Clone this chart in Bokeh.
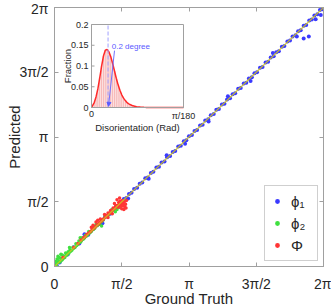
import numpy as np
from bokeh.plotting import figure
from bokeh.models import Range1d, LinearAxis, FixedTicker, Legend, LegendItem, Arrow, NormalHead, Label
from bokeh.core.properties import value
from bokeh.embed import file_html
from bokeh.resources import INLINE

PI = np.pi
FONT = "Liberation Sans"

# ---------------- data ----------------
tick_vals = [0, PI / 2, PI, 3 * PI / 2, 2 * PI]
tick_labels = ["0", "π/2", "π", "3π/2", "2π"]
diag = [0, 2 * PI]

phi1_true = [0.05, 0.12, 0.22, 0.31, 0.45, 0.58, 0.66, 0.79, 0.93, 1.05, 1.18, 1.30, 1.44, 1.55, 1.62, 1.68,
             1.74, 1.80, 1.86, 1.93, 1.99, 2.05, 2.12, 2.18, 2.25, 2.31, 2.38, 2.44, 2.50, 2.57, 2.63, 2.70,
             2.76, 2.82, 2.89, 2.95, 3.02, 3.08, 3.14, 3.21, 3.27, 3.33, 3.40, 3.46, 3.52, 3.59, 3.65, 3.72,
             3.78, 3.84, 3.91, 3.97, 4.03, 4.10, 4.16, 4.22, 4.29, 4.35, 4.42, 4.48, 4.54, 4.61, 4.67, 4.73,
             4.80, 4.86, 4.93, 4.99, 5.05, 5.12, 5.18, 5.24, 5.31, 5.37, 5.44, 5.50, 5.56, 5.63, 5.69, 5.75,
             5.82, 5.88, 5.95, 6.01, 6.07, 6.14, 6.20, 6.26,
             1.72, 2.20, 2.62, 3.05, 3.60, 4.05, 4.58, 5.10, 5.66, 5.82, 5.94, 6.10, 6.22, 1.12, 0.70]
phi1_pred = [0.03, 0.10, 0.24, 0.29, 0.47, 0.56, 0.68, 0.77, 0.95, 1.03, 1.20, 1.28, 1.46, 1.53, 1.64, 1.66,
             1.76, 1.79, 1.88, 1.91, 2.01, 2.04, 2.14, 2.16, 2.27, 2.30, 2.40, 2.42, 2.52, 2.55, 2.65, 2.68,
             2.78, 2.80, 2.91, 2.93, 3.04, 3.06, 3.16, 3.19, 3.29, 3.31, 3.42, 3.44, 3.54, 3.57, 3.67, 3.70,
             3.80, 3.82, 3.93, 3.95, 4.05, 4.08, 4.18, 4.20, 4.31, 4.33, 4.44, 4.46, 4.56, 4.59, 4.69, 4.71,
             4.82, 4.84, 4.95, 4.97, 5.07, 5.10, 5.20, 5.22, 5.33, 5.35, 5.46, 5.48, 5.58, 5.61, 5.71, 5.73,
             5.84, 5.86, 5.97, 5.99, 6.09, 6.12, 6.22, 6.24,
             1.65, 2.13, 2.70, 2.98, 3.52, 4.13, 4.50, 5.18, 5.58, 5.53, 5.58, 6.00, 6.10, 1.05, 0.78]

phi2_true = [0.02, 0.03, 0.05, 0.06, 0.08, 0.10, 0.11, 0.13, 0.15, 0.17, 0.18, 0.20, 0.22, 0.24, 0.26, 0.28,
             0.30, 0.32, 0.34, 0.36, 0.38, 0.41, 0.43, 0.45, 0.48, 0.50, 0.52, 0.55, 0.57, 0.60, 0.62, 0.65,
             0.67, 0.70, 0.72, 0.75, 0.78, 0.80, 0.83, 0.86, 0.88, 0.91, 0.94, 0.97, 1.00, 1.03, 1.06, 1.10,
             1.14, 1.18, 1.22, 1.26, 1.30, 1.34, 1.38, 1.42, 1.46, 1.52, 1.58, 1.10, 0.90, 0.60, 0.35, 0.15, 0.08]
phi2_pred = [0.05, 0.12, 0.02, 0.18, 0.10, 0.14, 0.22, 0.11, 0.20, 0.15, 0.28, 0.19, 0.25, 0.22, 0.33, 0.27,
             0.29, 0.36, 0.33, 0.40, 0.37, 0.40, 0.47, 0.44, 0.47, 0.55, 0.51, 0.54, 0.62, 0.59, 0.61, 0.70,
             0.66, 0.69, 0.76, 0.74, 0.77, 0.85, 0.82, 0.85, 0.93, 0.90, 0.93, 1.02, 0.99, 1.02, 1.05, 1.09,
             1.13, 1.22, 1.21, 1.25, 1.29, 1.38, 1.37, 1.33, 1.38, 1.43, 1.50, 0.98, 0.97, 0.70, 0.46, 0.30, 0.25]

Phi_true = [0.20, 0.45, 0.55, 0.62, 0.68, 0.72, 0.76, 0.80, 0.84, 0.86, 0.88, 0.90, 0.92, 0.95, 0.97, 0.99,
            1.01, 1.03, 1.05, 1.07, 1.09, 1.11, 1.13, 1.15, 1.17, 1.19, 1.21, 1.23, 1.25, 1.27, 1.29, 1.31,
            1.33, 1.35, 1.37, 1.39, 1.41, 1.43, 1.45, 1.47, 1.49, 1.50, 1.52, 1.53, 1.55, 1.56, 1.57, 1.58,
            1.60, 1.61, 1.62, 1.63, 1.64, 1.66, 1.67, 1.68, 1.46, 1.40, 1.52, 1.35, 1.25]
Phi_pred = [0.22, 0.46, 0.56, 0.64, 0.70, 0.73, 0.78, 0.81, 0.85, 0.95, 0.89, 1.00, 0.93, 0.96, 1.08, 1.00,
            1.12, 1.04, 1.06, 1.15, 1.10, 1.12, 1.14, 1.16, 1.26, 1.20, 1.22, 1.24, 1.30, 1.28, 1.30, 1.36,
            1.34, 1.36, 1.42, 1.40, 1.42, 1.47, 1.46, 1.48, 1.44, 1.55, 1.50, 1.58, 1.46, 1.52, 1.40, 1.60,
            1.48, 1.55, 1.38, 1.57, 1.45, 1.51, 1.42, 1.60, 1.62, 1.53, 1.66, 1.28, 1.19]

# inset: disorientation histogram (degrees; axis end = 1 degree = pi/180 rad)
hist_deg = [0.01, 0.03, 0.05, 0.07, 0.09, 0.11, 0.13, 0.15, 0.17, 0.19, 0.21, 0.23, 0.25, 0.27, 0.29,
            0.31, 0.33, 0.35, 0.37, 0.39, 0.41, 0.43, 0.45, 0.47, 0.49, 0.51, 0.53, 0.55, 0.57, 0.59]
hist_frac = [0.004, 0.012, 0.026, 0.046, 0.072, 0.100, 0.124, 0.138, 0.140, 0.134, 0.122, 0.106, 0.088,
             0.070, 0.054, 0.041, 0.030, 0.022, 0.016, 0.011, 0.008, 0.006, 0.004, 0.003, 0.002, 0.0015,
             0.001, 0.0008, 0.0005, 0.0003]
bin_width = 0.02
inset_xlim = (0, 1)
inset_ylim = (0, 0.2)
inset_xticks = [0, 1]
inset_xlabels = ["0", "π/180"]
inset_yticks = [0, 0.05, 0.1, 0.15, 0.2]
inset_ylabels = ["0", "0.05", "0.1", "0.15", "0.2"]
mark_deg = 0.18
note_text = "0.2 degree"
note_pos = (0.22, 0.148)
arrow_from = (0.25, 0.137)
arrow_to = (0.185, 0.003)

# ---------------- layout constants (pixels) ----------------
FW, FH = 269, 259                 # main frame size
INSET = dict(left=37, right=129, bottom=159, top=242)   # inset box inside the main frame (px from frame left / bottom)

AX = "#a0a0a0"
TXT = "#262626"


def style_axis(ax, lab_size, title_size, tick_in=4):
    ax.axis_line_color = AX
    ax.major_tick_line_color = AX
    ax.major_tick_in = tick_in
    ax.major_tick_out = 0
    ax.minor_tick_line_color = None
    ax.major_label_text_font = FONT
    ax.major_label_text_font_size = lab_size
    ax.major_label_text_color = TXT
    ax.axis_label_text_font = FONT
    ax.axis_label_text_font_size = title_size
    ax.axis_label_text_font_style = "normal"
    ax.axis_label_text_color = TXT


# ---------------- main figure ----------------
p = figure(frame_width=FW, frame_height=FH, x_range=Range1d(0, 2 * PI), y_range=Range1d(0, 2 * PI),
           output_backend="svg", toolbar_location=None,
           min_border_left=54, min_border_right=8, min_border_top=7, min_border_bottom=41)
p.grid.visible = False
p.outline_line_color = AX
p.xaxis.axis_label = "Ground Truth"
p.yaxis.axis_label = "Predicted"
overrides = dict(zip(tick_vals, tick_labels))
for ax in (p.xaxis[0], p.yaxis[0]):
    ax.ticker = FixedTicker(ticks=tick_vals)
    ax.major_label_overrides = overrides
    style_axis(ax, "14px", "15px")
p.xaxis[0].major_label_standoff = 9
p.xaxis[0].axis_label_standoff = -5
p.yaxis[0].major_label_standoff = 6
p.yaxis[0].axis_label_standoff = -7

blank = {v: "" for v in tick_vals}
for loc in ("right", "above"):
    a = LinearAxis(ticker=FixedTicker(ticks=tick_vals), major_label_overrides=blank)
    style_axis(a, "1px", "1px")
    a.major_label_standoff = 0
    p.add_layout(a, loc)

r1 = p.scatter(phi1_true, phi1_pred, size=4, color="#3a3aff", line_color=None)
r2 = p.scatter(phi2_true, phi2_pred, size=3.5, color="#3fe03f", line_color=None)
r3 = p.scatter(Phi_true, Phi_pred, size=3.5, color="#ff3535", line_color=None)
p.line(diag, diag, color="#d2c61e", line_width=1.2, alpha=0.85)

legend = Legend(items=[LegendItem(label="ϕ₁", renderers=[r1]),
                       LegendItem(label="ϕ₂", renderers=[r2]),
                       LegendItem(label="Φ", renderers=[r3])],
                location="bottom_right")
legend.border_line_color = AX
legend.background_fill_color = "white"
legend.label_text_font = FONT
legend.label_text_font_size = "15px"
legend.label_text_color = TXT
legend.glyph_width = 12
legend.glyph_height = 18
legend.spacing = 4
legend.padding = 6
legend.margin = 5
legend.label_standoff = 8
p.add_layout(legend)

# ---------------- inset, drawn through its own ranges inside the main frame ----------------
def inset_range(lo, hi, px_lo, px_hi, px_total):
    per_px = (hi - lo) / (px_hi - px_lo)
    start = lo - px_lo * per_px
    return Range1d(start, start + px_total * per_px)


p.extra_x_ranges = {"ix": inset_range(*inset_xlim, INSET["left"], INSET["right"], FW)}
p.extra_y_ranges = {"iy": inset_range(*inset_ylim, INSET["bottom"], INSET["top"], FH)}
R = dict(x_range_name="ix", y_range_name="iy")

p.quad(left=[inset_xlim[0]], right=[inset_xlim[1]], bottom=[inset_ylim[0]], top=[inset_ylim[1]],
       fill_color="white", line_color=None, **R)
p.vbar(x=hist_deg, top=hist_frac, width=bin_width, fill_color="#f7b4b4", line_color="white",
       line_width=0.4, **R)
curve_x = [inset_xlim[0]] + hist_deg + [0.7, inset_xlim[1]]
curve_y = [0] + hist_frac + [0, 0]
p.line(curve_x, curve_y, color="#ff2a2a", line_width=1.5, **R)
p.segment(x0=[mark_deg], y0=[inset_ylim[0]], x1=[mark_deg], y1=[inset_ylim[1]], line_color="#a0a0ff",
          line_dash="4 2", line_width=1, **R)
p.quad(left=[inset_xlim[0]], right=[inset_xlim[1]], bottom=[inset_ylim[0]], top=[inset_ylim[1]],
       fill_color=None, line_color=AX, line_width=1, **R)
# inset ticks (inward) and tick labels
p.ray(x=[inset_xlim[0]] * len(inset_yticks), y=inset_yticks, length=3, length_units="screen", angle=0,
      line_color=AX, **R)
p.ray(x=inset_xticks, y=[inset_ylim[0]] * len(inset_xticks), length=3, length_units="screen",
      angle=PI / 2, line_color=AX, **R)
p.text(x=[inset_xlim[0]] * len(inset_yticks), y=inset_yticks, text=inset_ylabels, x_offset=-3,
       text_align="right", text_baseline="middle", text_font=value(FONT), text_font_size="9px",
       text_color=TXT, **R)
p.text(x=inset_xticks, y=[inset_ylim[0]] * len(inset_xticks), text=inset_xlabels, y_offset=3,
       text_align="center", text_baseline="top", text_font=value(FONT), text_font_size="9px",
       text_color=TXT, **R)
p.text(x=[inset_xlim[0]], y=[(inset_ylim[0] + inset_ylim[1]) / 2], text=["Fraction"], x_offset=-24,
       angle=PI / 2, text_align="center", text_baseline="middle", text_font=value(FONT),
       text_font_size="9.5px", text_color=TXT, **R)
p.text(x=[(inset_xlim[0] + inset_xlim[1]) / 2], y=[inset_ylim[0]], text=["Disorientation (Rad)"],
       y_offset=20, text_align="center", text_baseline="middle", text_font=value(FONT),
       text_font_size="9.5px", text_color=TXT, **R)
p.add_layout(Arrow(end=NormalHead(size=4, fill_color="#5a5aff", line_color="#5a5aff"),
                   x_start=arrow_from[0], y_start=arrow_from[1], x_end=arrow_to[0], y_end=arrow_to[1],
                   line_color="#7070ff", line_width=1, **R))
p.add_layout(Label(x=note_pos[0], y=note_pos[1], text=note_text, text_font=FONT, text_font_size="8px",
                   text_color="#5a5aff", text_baseline="middle", **R))

open("out.html", "w").write(file_html(p, INLINE))
